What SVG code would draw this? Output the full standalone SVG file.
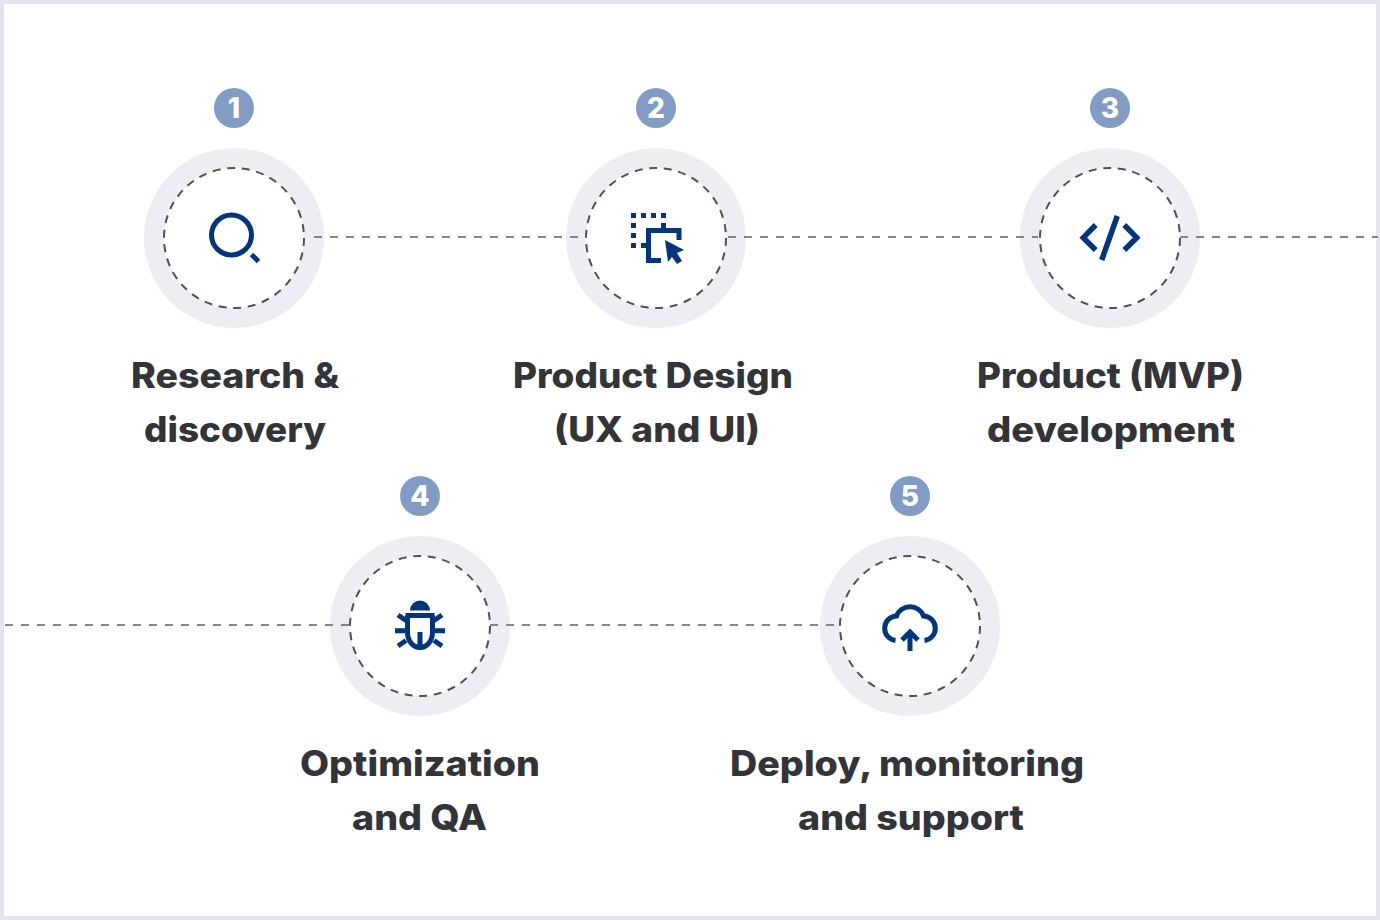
<svg xmlns="http://www.w3.org/2000/svg" width="1380" height="920" viewBox="0 0 1380 920">
<style>
.ring{fill:#edeef4}
.inner{fill:#fff;stroke:#4f5058;stroke-width:2;stroke-dasharray:8 6.66}
.badge{fill:#809cc5}
.num{font-family:"Inter","Liberation Sans",sans-serif;font-weight:800;font-size:28px;fill:#fff;text-anchor:middle}
.lbl{font-family:"Inter","Liberation Sans",sans-serif;font-weight:800;font-size:35px;fill:#333439}
.link{stroke:#5f6068;stroke-width:1.7;stroke-dasharray:8 8;fill:none}
.ic{fill:none;stroke:#003580;stroke-width:5}
.if{fill:#003580}
</style>
<rect x="2" y="2" width="1376" height="916" fill="#fff" stroke="#e4e4f1" stroke-width="4"/>
<g id="nodes">
<g id="node-1">
<circle class="ring" cx="234" cy="238" r="90"/>
<circle class="inner" cx="234" cy="238" r="70"/>
<circle class="badge" cx="234" cy="108" r="20"/>
<text class="num" x="234" y="118">1</text>
<circle class="ic" cx="231.5" cy="235" r="20"/>
<path class="ic" d="M251.5 254.5L258.5 261.5"/>
<text class="lbl" x="131" y="388" textLength="208" lengthAdjust="spacingAndGlyphs">Research &amp;</text>
<text class="lbl" x="144" y="442" textLength="182" lengthAdjust="spacingAndGlyphs">discovery</text>
</g>
<g id="node-2">
<circle class="ring" cx="656" cy="238" r="90"/>
<circle class="inner" cx="656" cy="238" r="70"/>
<circle class="badge" cx="656" cy="108" r="20"/>
<text class="num" x="656" y="118">2</text>
<path class="if" d="M631 213h5v5h-5zM641 213h5v5h-5zM651 213h5v5h-5zM661 213h5v5h-5zM631 223h5v5h-5zM661 223h5v5h-5zM631 233h5v5h-5zM631 243h5v5h-5zM641 243h5v5h-5z"/>
<path class="ic" d="M661 260.500H648.500V230.500H679V240"/>
<path class="if" d="M665 240L684 250L677 253L682 261L677 264L672 257L668 262Z"/>
<text class="lbl" x="513" y="388" textLength="280" lengthAdjust="spacingAndGlyphs">Product Design</text>
<text class="lbl" x="554" y="442" textLength="206" lengthAdjust="spacingAndGlyphs">(UX and UI)</text>
</g>
<g id="node-3">
<circle class="ring" cx="1110" cy="238" r="90"/>
<circle class="inner" cx="1110" cy="238" r="70"/>
<circle class="badge" cx="1110" cy="108" r="20"/>
<text class="num" x="1110" y="118">3</text>
<path class="ic" stroke-linecap="butt" style="stroke-width:5.500" d="M1095.700 225L1083.300 237.700L1095.700 250M1124.300 225L1136.700 237.700L1124.300 250M1117.300 216L1101.700 260"/>
<text class="lbl" x="977" y="388" textLength="267" lengthAdjust="spacingAndGlyphs">Product (MVP)</text>
<text class="lbl" x="987" y="442" textLength="248" lengthAdjust="spacingAndGlyphs">development</text>
</g>
<g id="node-4">
<circle class="ring" cx="420" cy="626" r="90"/>
<circle class="inner" cx="420" cy="626" r="70"/>
<circle class="badge" cx="420" cy="496" r="20"/>
<text class="num" x="420" y="506">4</text>
<path class="if" d="M410 610.500a10 10 0 0 1 20 0z"/>
<path class="ic" d="M405.500 615.500H434.500M407.500 615.500V632C407.500 641 413 647.500 420 647.500C427 647.500 432.500 641 432.500 632V615.500M420 632V648M398 615L406 620.500M395 630.700H405M398 646L406 640.500M442 615L434 620.500M445 630.700H435M442 646L434 640.500"/>
<text class="lbl" x="300" y="776" textLength="240" lengthAdjust="spacingAndGlyphs">Optimization</text>
<text class="lbl" x="352" y="830" textLength="135" lengthAdjust="spacingAndGlyphs">and QA</text>
</g>
<g id="node-5">
<circle class="ring" cx="910" cy="626" r="90"/>
<circle class="inner" cx="910" cy="626" r="70"/>
<circle class="badge" cx="910" cy="496" r="20"/>
<text class="num" x="910" y="506">5</text>
<path class="ic" d="M895.500 640.500A12.300 12.300 0 0 1 896.500 616A14.500 14.500 0 0 1 923.500 616A12.300 12.300 0 0 1 924.500 640.500M910 651V632M902 640L910 632L918 640"/>
<text class="lbl" x="730" y="776" textLength="354" lengthAdjust="spacingAndGlyphs">Deploy, monitoring</text>
<text class="lbl" x="798" y="830" textLength="226" lengthAdjust="spacingAndGlyphs">and support</text>
</g>
</g>
<g id="connectors">
<path class="link" d="M314 237H584"/>
<path class="link" d="M728 237H1038"/>
<path class="link" d="M1180 237H1378"/>
<path class="link" d="M5 625H350"/>
<path class="link" d="M490 625H838"/>
</g>
</svg>
